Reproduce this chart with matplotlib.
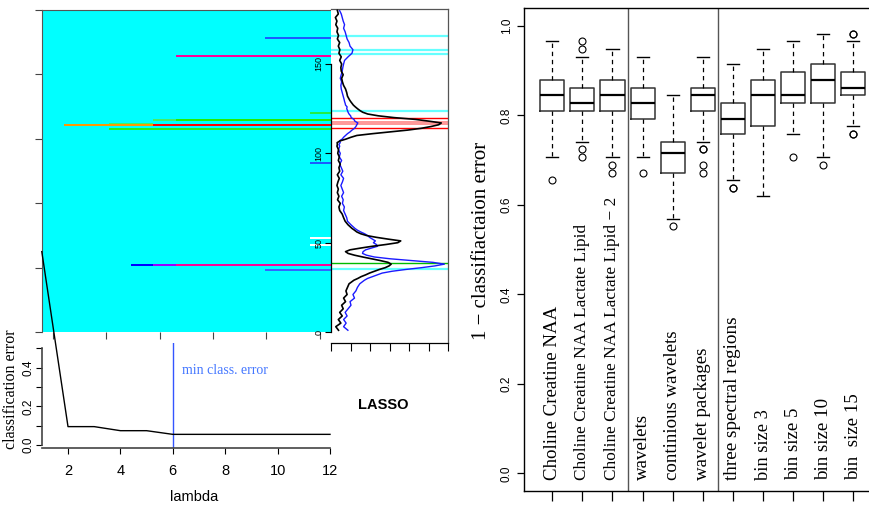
import numpy as np
import matplotlib
matplotlib.use("Agg")
import matplotlib.pyplot as plt
from matplotlib.colors import to_rgb

W, H = 870, 507
SERIF = "Liberation Serif"
SANS = "Liberation Sans"

# ---------------- data ----------------
# LASSO selection image (13 lambda columns x 180 spectral rows)
n_cols = 13
n_rows = 180
seg_row = [164, 154, 122, 118, 118, 116, 115, 115, 113, 94, 52, 48, 37, 37, 37, 34]
seg_c0 = [10, 6, 12, 5, 6, 3, 1, 5, 3, 12, 12, 12, 4, 5, 6, 10]
seg_c1 = [12, 12, 12, 5, 12, 4, 4, 12, 12, 12, 12, 12, 4, 5, 12, 12]
seg_col = ["#1a5cff", "#ff0099", "#22ee44", "#44ee66", "#22ee00", "#44ee66",
           "#ff9900", "#ff0000", "#22ee22", "#1a5cff", "#ffffff", "#ffffff",
           "#0000ff", "#9900ff", "#ff0099", "#3366ff"]

# spectra
black_idx = [1, 3, 5, 7, 9, 11, 13, 15, 17, 19, 21, 23, 25, 27, 29,
             30, 31, 32, 33, 34, 35, 36, 37, 38, 39, 40, 41, 42, 43, 44, 45, 46, 47, 48, 49,
             50, 51, 52, 53, 54, 55, 56, 57, 58, 59, 60,
             62, 64, 66, 68, 70, 72, 74, 76, 78, 80, 82, 84, 86, 88, 90, 92, 94, 96, 98, 100,
             102, 104, 105, 106, 107, 108, 109, 110, 111, 112, 113, 114, 115, 116, 117, 118,
             119, 120, 121, 122, 123, 124, 125, 126, 127, 128, 129, 130,
             132, 134, 136, 138, 140, 142, 144, 146, 148, 150, 152, 154, 156, 158, 160, 162,
             164, 166, 168, 170, 172, 174, 176, 178, 180]
black_val = [0.36, 0.22, 0.48, 0.35, 0.55, 0.42, 0.60, 0.52, 0.72, 0.62, 0.80, 0.74, 0.82, 0.90, 1.15,
             1.35, 1.52, 1.75, 1.95, 2.20, 2.45, 2.75, 2.95, 3.06, 2.90, 2.50, 2.05, 1.60, 1.18, 0.85, 0.72, 0.95, 1.50, 2.10, 2.80,
             3.40, 3.55, 2.90, 2.30, 1.80, 1.50, 1.30, 1.18, 1.05, 0.95, 0.85,
             0.70, 0.62, 0.55, 0.42, 0.38, 0.45, 0.31, 0.38, 0.30, 0.35, 0.28, 0.33, 0.40, 0.30, 0.42, 0.38, 0.45, 0.35, 0.40, 0.32,
             0.36, 0.28, 0.30, 0.29, 0.45, 0.75, 1.00, 1.30, 2.10, 3.00, 3.90, 4.60, 5.10, 5.50, 5.63, 5.00,
             4.30, 3.20, 2.40, 1.86, 1.60, 1.45, 1.33, 1.22, 1.12, 1.05, 0.98, 0.92,
             0.82, 0.78, 0.72, 0.62, 0.56, 0.52, 0.60, 0.50, 0.48, 0.52, 0.42, 0.50, 0.38, 0.43, 0.35, 0.42,
             0.30, 0.36, 0.28, 0.32, 0.22, 0.28, 0.20, 0.35, 0.30]
blue_idx = black_idx
blue_val = [0.84, 0.62, 0.75, 0.62, 0.80, 0.70, 0.85, 1.00, 0.95, 1.18, 1.10, 1.25, 1.33, 1.45, 1.69,
            1.85, 2.10, 2.35, 2.60, 3.10, 3.80, 4.60, 5.30, 5.79, 5.20, 4.10, 3.00, 2.20, 1.80, 1.59, 1.62, 1.75, 2.05, 2.36, 2.30,
            2.15, 2.25, 2.10, 1.95, 1.85, 1.70, 1.50, 1.33, 1.20, 1.10, 1.00,
            0.82, 0.78, 0.70, 0.62, 0.66, 0.56, 0.60, 0.52, 0.62, 0.55, 0.48, 0.56, 0.62, 0.48, 0.58, 0.50, 0.42, 0.52, 0.40, 0.45,
            0.36, 0.42, 0.38, 0.45, 0.41, 0.55, 0.62, 0.72, 0.82, 0.95, 1.05, 1.18, 1.25, 1.30, 1.35, 1.20,
            1.15, 1.01, 0.98, 0.90, 0.85, 0.82, 0.78, 0.80, 0.72, 0.70, 0.67, 0.65,
            0.60, 0.55, 0.50, 0.48, 0.52, 0.45, 0.50, 0.55, 0.58, 0.62, 0.67, 0.85, 1.05, 1.10, 0.95, 0.90,
            0.80, 0.75, 0.70, 0.62, 0.67, 0.60, 0.55, 0.50, 0.41]
cyan_marks = [165.6, 157.6, 155.8, 123.5, 35.2]
red_marks = [119.5, 114.4]
red_band = [116.1, 118.1]
green_marks = [38.4]

# classification error vs lambda
lambdas = [1, 2, 3, 4, 5, 6, 7, 8, 9, 10, 11, 12]
cls_err = [1.0, 0.095, 0.095, 0.074, 0.074, 0.055, 0.055, 0.055, 0.055, 0.055, 0.055, 0.055]
best_lambda = 6

# boxplot statistics (1 - classification error)
box_names = ["Choline Creatine NAA", "Choline Creatine NAA Lactate Lipid",
             "Choline Creatine NAA Lactate Lipid \u2212 2", "wavelets", "continious wavelets",
             "wavelet packages", "three spectral regions", "bin size 3", "bin size 5",
             "bin size 10", "bin  size 15"]
whislo = [0.707, 0.741, 0.707, 0.707, 0.569, 0.741, 0.655, 0.621, 0.759, 0.707, 0.776]
q1 = [0.810, 0.810, 0.810, 0.793, 0.672, 0.810, 0.759, 0.776, 0.828, 0.828, 0.845]
med = [0.845, 0.828, 0.845, 0.828, 0.716, 0.845, 0.793, 0.845, 0.845, 0.879, 0.862]
q3 = [0.879, 0.862, 0.879, 0.862, 0.741, 0.862, 0.828, 0.879, 0.897, 0.914, 0.897]
whishi = [0.966, 0.931, 0.948, 0.931, 0.845, 0.931, 0.914, 0.948, 0.966, 0.983, 0.966]
fliers = [[0.655], [0.966, 0.948, 0.724, 0.707], [0.690, 0.672], [0.672], [0.552],
          [0.724, 0.724, 0.690, 0.672], [0.638, 0.638], [], [0.707], [0.690],
          [0.983, 0.983, 0.759, 0.759]]


def add_ax(x0, y0, x1, y1):
    return fig.add_axes([x0 / W, 1 - y1 / H, (x1 - x0) / W, (y1 - y0) / H])


fig = plt.figure(figsize=(W / 100, H / 100), dpi=100)

# ---------------- cyan LASSO image ----------------
axc = add_ax(41.5, 10, 331, 332)
img = np.ones((n_rows, n_cols, 3)) * np.array(to_rgb("#00ffff"))
for r, c0, c1, col in zip(seg_row, seg_c0, seg_c1, seg_col):
    img[r, c0:c1 + 1, :] = to_rgb(col)
half = 0.5 / (n_cols - 1)
axc.imshow(img, origin="lower", aspect="auto", interpolation="nearest",
           extent=(-half, 1 + half, 0, n_rows))
axc.set_xlim(-half, 1 + half)
axc.set_ylim(0, n_rows)
axc.set_xticks(np.linspace(0, 1, 6))
axc.set_yticks(np.linspace(0, n_rows, 6))
axc.tick_params(labelleft=False, labelbottom=False, length=5, width=0.8, color="#444444")
for s in ["right", "bottom"]:
    axc.spines[s].set_visible(False)
for s in ["left", "top"]:
    axc.spines[s].set_color("#555555")
    axc.spines[s].set_linewidth(0.8)

# ---------------- spectra panel ----------------
axs = add_ax(331.5, 9.3, 448.5, 343.3)
axs.set_xlim(0, 6)
axs.set_ylim(-6.3, 180.6)
for v in cyan_marks:
    axs.axhline(v, color="#66ffff", lw=1.6, zorder=1)
axs.axhspan(red_band[0], red_band[1], color="#ff5555", alpha=0.6, lw=0, zorder=1)
for v in red_marks:
    axs.axhline(v, color="#ff0000", lw=1.0, zorder=1)
for v in green_marks:
    axs.axhline(v, color="#00bb00", lw=1.0, zorder=1)
axs.plot(blue_val, blue_idx, color="#1a1aff", lw=1.0, zorder=2, clip_on=False)
axs.plot(black_val, black_idx, color="black", lw=1.2, zorder=3, clip_on=False)
axs.set_yticks([0, 50, 100, 150])
axs.set_yticklabels(["0", "50", "100", "150"], rotation=90, va="center",
                    fontsize=6.5, family=SANS)
axs.set_xticks(np.arange(0, 7))
axs.set_xticklabels([])
axs.tick_params(axis="y", length=4, width=0.8, pad=2)
axs.tick_params(axis="x", length=6, width=0.8)
axs.spines["left"].set_bounds(0, 150)
for s in axs.spines.values():
    s.set_linewidth(0.9)
axs.spines["top"].set_color("#555555")
axs.spines["right"].set_color("#555555")

# ---------------- classification error panel ----------------
axe = add_ax(41.8, 342.7, 330, 447.7)
axe.patch.set_visible(False)
axe.set_xlim(1, 12)
axe.set_ylim(-0.014, 0.529)
axe.plot(lambdas, cls_err, color="black", lw=1.0, clip_on=False, zorder=5)
axe.axvline(best_lambda, color="#3355ff", lw=1.0)
axe.text(6.35, 0.385, "min class. error", color="#4477ff", family=SERIF, fontsize=10,
         va="center", ha="left")
axe.set_xticks([2, 4, 6, 8, 10, 12])
axe.set_xticklabels(["2", "4", "6", "8", "10", "12"], family=SANS, fontsize=10.5)
axe.set_yticks([0, 0.1, 0.2, 0.3, 0.4, 0.5])
axe.set_yticklabels(["0.0", "", "0.2", "", "0.4", ""], rotation=90, va="center",
                    family=SANS, fontsize=8.5)
axe.tick_params(axis="both", length=4.5, width=0.8)
axe.tick_params(axis="y", pad=1)
axe.tick_params(axis="x", pad=7)
axe.spines["left"].set_bounds(0, 0.5)
axe.spines["bottom"].set_bounds(1, 12)
axe.spines["top"].set_visible(False)
axe.spines["right"].set_visible(False)
for s in ["left", "bottom"]:
    axe.spines[s].set_color("#444444")
    axe.spines[s].set_linewidth(1.2)

fig.text(11 / W, 1 - 389 / H, "classification error", rotation=90, family=SERIF,
         fontsize=11.5, ha="center", va="center")
fig.text(194 / W, 1 - 497 / H, "lambda", family=SANS, fontsize=10.5, ha="center", va="center")
fig.text(383 / W, 1 - 405 / H, "LASSO", family=SANS, fontsize=10.5, fontweight="bold",
         ha="center", va="center")

# ---------------- boxplot panel ----------------
axb = add_ax(524, 8.1, 881.6, 491.2)
stats = []
for i in range(len(box_names)):
    stats.append(dict(whislo=whislo[i], q1=q1[i], med=med[i], q3=q3[i],
                      whishi=whishi[i], fliers=fliers[i]))
pos = np.arange(1, len(box_names) + 1)
axb.bxp(stats, positions=pos, widths=0.8, capwidths=0.4, showfliers=True,
        boxprops=dict(color="#333333", lw=1.1),
        medianprops=dict(color="black", lw=1.6),
        whiskerprops=dict(color="black", lw=0.9, linestyle=(0, (3.5, 3))),
        capprops=dict(color="black", lw=1.0),
        flierprops=dict(marker="o", markersize=5, markerfacecolor="none",
                        markeredgecolor="black", markeredgewidth=0.8))
axb.axvline(3.5, color="#555555", lw=1.0)
axb.axvline(6.5, color="#555555", lw=1.0)
label_sizes = [13.6, 12.4, 12.4, 13.6, 13.6, 13.6, 13.8, 13.2, 13.6, 13.6, 13.6]
for p, name, fs in zip(pos, box_names, label_sizes):
    axb.text(p, -0.015, name, rotation=90, ha="center", va="bottom", family=SERIF,
             fontsize=fs)
axb.set_xlim(0.06, 11.94)
axb.set_ylim(-0.04, 1.04)
axb.set_xticks(pos)
axb.set_xticklabels([])
axb.set_yticks([0, 0.2, 0.4, 0.6, 0.8, 1.0])
axb.set_yticklabels(["0.0", "0.2", "0.4", "0.6", "0.8", "1.0"], rotation=90,
                    va="center", family=SANS, fontsize=8.5)
axb.tick_params(axis="y", length=5, width=0.9, pad=3)
axb.tick_params(axis="x", length=7, width=0.9)
for s in axb.spines.values():
    s.set_linewidth(1.0)
fig.text(482 / W, 1 - 241 / H, "1 \u2212 classifiactaion error", rotation=90,
         family=SERIF, fontsize=15, ha="center", va="center")

fig.savefig("out.png", dpi=100)
